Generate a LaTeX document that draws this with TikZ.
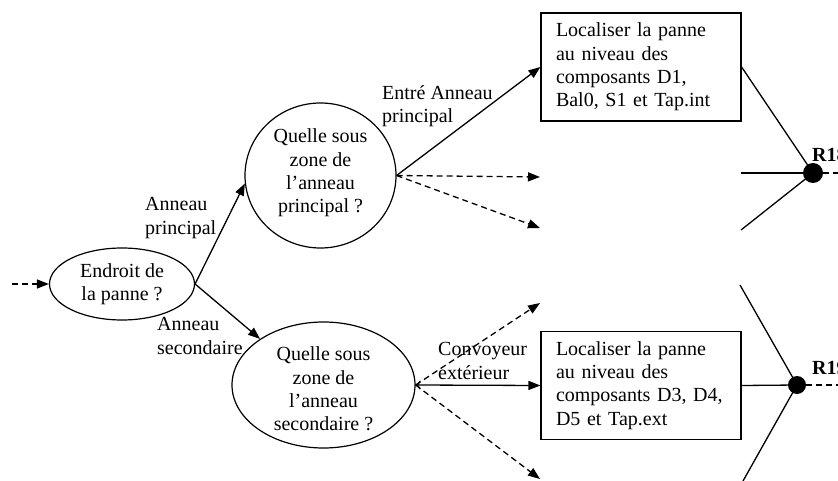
\documentclass[tikz,border=0pt]{standalone}
\usepackage{fontspec}
\setmainfont{Liberation Serif}
\usetikzlibrary{shapes.geometric,arrows.meta}
\begin{document}
\begin{tikzpicture}[x=1pt,y=-1pt,
  every node/.style={font=\fontsize{20}{23.3}\selectfont},
  ln/.style={line width=1.3pt, black},
  arr/.style={ln, -{Triangle[length=12pt,width=9pt]}},
  darr/.style={arr, dash pattern=on 6pt off 4pt},
  dln/.style={ln, dash pattern=on 6pt off 4pt},
  shp/.style={draw, ellipse, line width=1.2pt, inner sep=0pt},
  txt/.style={align=center, inner sep=0pt},
  lbl/.style={align=left, inner sep=0pt, anchor=west},
  boxn/.style={draw, line width=1.2pt, minimum width=200pt, minimum height=108pt, text width=170pt, align=left, inner xsep=15pt, inner ysep=0pt},
  dotn/.style={circle, fill=black, minimum size=20pt, inner sep=0pt}
]
\useasboundingbox (0,0) rectangle (838,481);
\clip (0,0) rectangle (838,481);

% shapes
\node[shp, minimum width=145pt, minimum height=72pt] (e1) at (122,284) {};
\node[txt] (e1t) at (122,284) {Endroit de\\la panne ?};
\node[shp, minimum width=151pt, minimum height=145pt] (c2) at (320.5,175.5) {};
\node[txt] (c2t) at (320.5,173) {Quelle sous\\zone de\\l’anneau\\principal ?};
\node[shp, minimum width=183pt, minimum height=126pt] (e3) at (323.5,385) {};
\node[txt] (e3t) at (323.5,389) {Quelle sous\\zone de\\l’anneau\\secondaire ?};

\node[boxn] (b1) at (641,67) {Localiser la panne\\au niveau des\\composants D1,\\Bal0, S1 et Tap.int};
\node[boxn] (b2) at (641,385.5) {Localiser la panne\\au niveau des\\composants D3, D4,\\D5 et Tap.ext};

\node[dotn] (d18) at (813,173) {};
\node[dotn, minimum size=18pt] (d19) at (797,385) {};

% free ends
\coordinate (in0) at (12,284);
\coordinate (o1) at (540,177);
\coordinate (o2) at (540,228);
\coordinate (o3) at (540,303);
\coordinate (o4) at (540,479);
\coordinate (r18a) at (741,173);
\coordinate (r18b) at (741,230);
\coordinate (r18c) at (838,173);
\coordinate (r19a) at (740,285);
\coordinate (r19b) at (743,481);
\coordinate (r19c) at (838,385);

% connectors
\draw[darr] (in0) -- (e1.west);
\draw[arr] (e1.east) -- (c2.186);
\draw[arr] (e1.east) -- (e3.144);
\draw[arr] (c2.east) -- (b1.west);
\draw[darr] (c2.east) -- (o1);
\draw[darr] (c2.east) -- (o2);
\draw[ln, {To[length=5pt,width=9pt]}-{Triangle[length=12pt,width=9pt]}] (e3.east) -- (b2.west);
\draw[darr] (e3.east) -- (o3);
\draw[darr] (e3.east) -- (o4);

\draw[ln] (b1.east) -- (d18.center);
\draw[ln] (r18a) -- (d18.center);
\draw[ln] (r18b) -- (d18.center);
\draw[dln] (d18) -- (r18c);
\draw[ln] (r19a) -- (d19.center);
\draw[ln] (b2.east) -- (d19.center);
\draw[ln] (r19b) -- (d19.center);
\draw[dln] (d19) -- (r19c);

% labels
\node[lbl] (l1) at (145,218) {Anneau\\principal};
\node[lbl] (l2) at (157,336) {Anneau\\secondaire};
\node[lbl] (l3) at (382,106) {Entré Anneau\\principal};
\node[lbl] (l4) at (438,361) {Convoyeur\\extérieur};
\node[lbl, font=\fontsize{20}{23.3}\selectfont\bfseries] (r18) at (812,155) {R18};
\node[lbl, font=\fontsize{20}{23.3}\selectfont\bfseries] (r19) at (812,368) {R19};
\end{tikzpicture}
\end{document}
